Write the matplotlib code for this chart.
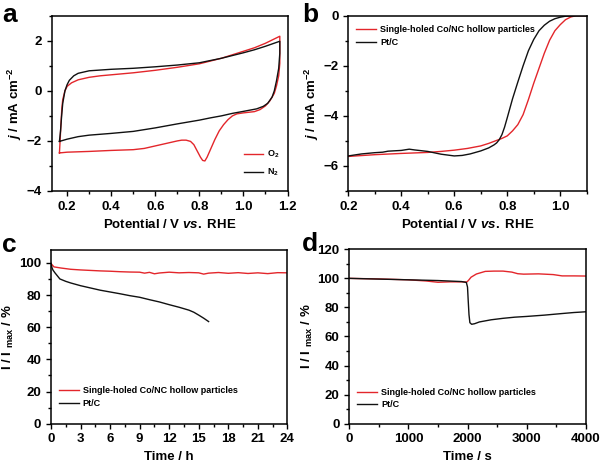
import matplotlib
matplotlib.use("Agg")
import matplotlib.pyplot as plt
from matplotlib.ticker import MultipleLocator

plt.rcParams["font.family"] = ["Liberation Sans", "DejaVu Sans"]
plt.rcParams["font.weight"] = "bold"
plt.rcParams["mathtext.fontset"] = "custom"
plt.rcParams["mathtext.rm"] = "Liberation Sans:bold"
plt.rcParams["mathtext.bf"] = "Liberation Sans:bold"
plt.rcParams["mathtext.it"] = "Liberation Sans:italic:bold"
plt.rcParams["mathtext.default"] = "bf"

RED = "#e3262b"
BLACK = "#111111"

# ---- panel a: CV in O2 / N2 (closed loops, anodic then cathodic sweep) ----
cv_o2_v = [0.165, 0.168, 0.172, 0.176, 0.18, 0.19, 0.2, 0.22, 0.25, 0.3, 0.35, 0.4, 0.5,
           0.6, 0.7, 0.8, 0.9, 1.0, 1.05, 1.1, 1.165,
           1.165, 1.16, 1.15, 1.14, 1.12, 1.1, 1.075, 1.05, 1.0, 0.97, 0.95, 0.93, 0.91,
           0.89, 0.87, 0.85, 0.835, 0.825, 0.815, 0.805, 0.79, 0.775, 0.76, 0.74, 0.72,
           0.7, 0.65, 0.6, 0.55, 0.5, 0.4, 0.3, 0.2, 0.165]
cv_o2_j = [-2.48, -2.0, -1.3, -0.7, -0.35, 0.0, 0.18, 0.32, 0.44, 0.54, 0.6, 0.64, 0.72,
           0.82, 0.94, 1.08, 1.3, 1.58, 1.72, 1.9, 2.18,
           1.1, 0.6, 0.2, -0.1, -0.4, -0.6, -0.75, -0.83, -0.88, -0.92, -1.0, -1.15, -1.35,
           -1.6, -1.95, -2.35, -2.65, -2.8, -2.78, -2.65, -2.4, -2.15, -2.02, -1.97, -1.97,
           -2.0, -2.1, -2.2, -2.3, -2.35, -2.38, -2.42, -2.45, -2.48]
cv_n2_v = [0.165, 0.17, 0.175, 0.18, 0.19, 0.2, 0.21, 0.23, 0.25, 0.3, 0.35, 0.4, 0.5,
           0.6, 0.7, 0.8, 0.9, 1.0, 1.05, 1.1, 1.165,
           1.165, 1.16, 1.15, 1.14, 1.13, 1.11, 1.09, 1.06, 1.0, 0.95, 0.9, 0.85, 0.8,
           0.7, 0.6, 0.5, 0.4, 0.3, 0.25, 0.2, 0.165]
cv_n2_j = [-2.02, -1.6, -1.0, -0.5, 0.0, 0.25, 0.42, 0.6, 0.7, 0.8, 0.83, 0.86, 0.9,
           0.96, 1.03, 1.12, 1.3, 1.52, 1.64, 1.78, 1.98,
           1.5, 0.9, 0.4, 0.0, -0.25, -0.5, -0.62, -0.72, -0.82, -0.9, -1.0, -1.08, -1.17,
           -1.32, -1.48, -1.62, -1.7, -1.77, -1.83, -1.93, -2.02]

# ---- panel b: LSV ----
lsv_co_v = [0.2, 0.3, 0.4, 0.5, 0.55, 0.6, 0.65, 0.7, 0.73, 0.76, 0.78, 0.8, 0.82, 0.84,
            0.86, 0.88, 0.9, 0.92, 0.94, 0.96, 0.98, 1.0, 1.02, 1.04, 1.06, 1.1]
lsv_co = [-5.62, -5.55, -5.5, -5.46, -5.42, -5.37, -5.3, -5.2, -5.1, -4.98, -4.9, -4.8,
          -4.6, -4.35, -3.95, -3.35, -2.7, -2.1, -1.5, -0.98, -0.6, -0.36, -0.16, -0.05,
          0.0, 0.0]
lsv_pt_v = [0.2, 0.25, 0.3, 0.33, 0.35, 0.4, 0.43, 0.45, 0.5, 0.55, 0.6, 0.63, 0.66, 0.7,
            0.73, 0.75, 0.76, 0.77, 0.78, 0.79, 0.8, 0.81, 0.82, 0.84, 0.86, 0.88, 0.9,
            0.92, 0.94, 0.96, 0.98, 1.0, 1.02, 1.05, 1.1]
lsv_pt = [-5.6, -5.52, -5.47, -5.45, -5.41, -5.38, -5.33, -5.36, -5.42, -5.53, -5.6,
          -5.58, -5.52, -5.4, -5.28, -5.16, -5.08, -4.95, -4.75, -4.45, -4.08, -3.7, -3.32,
          -2.65, -2.0, -1.4, -0.95, -0.6, -0.38, -0.22, -0.12, -0.06, -0.02, 0.0, 0.0]

# ---- panel c: chronoamperometry (h) ----
c_t_co = [0, 0.3, 1, 2, 3, 4, 5, 6, 7, 8, 9, 9.5, 10, 10.5, 11, 12, 13, 14, 15, 15.5, 16,
          17, 18, 19, 20, 21, 22, 23, 24]
c_co = [99.6, 97.5, 96.8, 96.0, 95.6, 95.3, 95.0, 94.8, 94.5, 94.3, 94.2, 93.6, 94.1, 93.2,
        93.7, 94.2, 93.8, 94.0, 93.8, 93.0, 93.6, 94.0, 93.5, 93.9, 93.4, 93.8, 93.3, 93.9, 93.8]
c_t_pt = [0, 0.1, 0.2, 0.4, 0.9, 1.5, 2, 3, 4, 5, 6, 7, 8, 9, 10, 11, 12, 13, 14, 14.5,
          15, 15.5, 16]
c_pt = [99.6, 97.0, 95.5, 93.8, 90.0, 88.5, 87.5, 85.8, 84.4, 83.0, 81.9, 80.8, 79.6,
        78.6, 77.1, 75.7, 74.0, 72.4, 70.6, 69.3, 67.5, 65.6, 63.5]

# ---- panel d: chronoamperometry (s), methanol added at 2000 s ----
d_t_co = [0, 500, 1000, 1300, 1500, 1700, 1900, 1990, 2020, 2060, 2150, 2300, 2450, 2600,
          2750, 2850, 2950, 3200, 3450, 3600, 3800, 4000]
d_co = [100, 99.6, 99.0, 98.2, 97.3, 97.6, 97.6, 97.5, 98.8, 100.8, 103.0, 104.8, 105.0,
        105.0, 104.3, 103.2, 102.9, 103.1, 102.6, 101.7, 101.7, 101.6]
d_t_pt = [0, 500, 1000, 1500, 1900, 1980, 2000, 2010, 2025, 2040, 2070, 2120, 2200, 2400,
          2600, 2800, 3000, 3300, 3600, 3800, 4000]
d_pt = [100, 99.5, 99.0, 98.5, 97.8, 97.2, 94.0, 86.0, 75.0, 69.5, 68.4, 68.8, 70.0, 71.5,
        72.5, 73.3, 73.8, 74.7, 75.8, 76.5, 77.0]

LABEL_CO = "Single-holed Co/NC hollow particles"
LABEL_PT = "Pt/C"

fig = plt.figure(figsize=(6.0, 4.62), dpi=100)

ax_a = fig.add_axes([0.0862, 0.5866, 0.393, 0.3794])
ax_b = fig.add_axes([0.5805, 0.5866, 0.3973, 0.3794])
ax_c = fig.add_axes([0.085, 0.0829, 0.394, 0.376])
ax_d = fig.add_axes([0.5822, 0.0829, 0.394, 0.3775])


def style(ax):
    for s in ax.spines.values():
        s.set_linewidth(1.1)
    ax.tick_params(which="both", direction="out", top=False, right=False,
                   labelsize=9.5, width=1.0)
    ax.tick_params(which="major", length=3.5)
    ax.tick_params(which="minor", length=2)
    for lab in ax.get_xticklabels() + ax.get_yticklabels():
        lab.set_fontweight("bold")


lw = 1.0
leg_kw = dict(frameon=False, fontsize=6.5, handlelength=2.2, handletextpad=0.4)

# a
ax_a.plot(cv_o2_v, cv_o2_j, color=RED, lw=lw, label="O$_2$")
ax_a.plot(cv_n2_v, cv_n2_j, color=BLACK, lw=lw, label="N$_2$")
ax_a.set_xlim(0.13, 1.2)
ax_a.set_ylim(-4, 3)
ax_a.xaxis.set_major_locator(MultipleLocator(0.2))
ax_a.xaxis.set_minor_locator(MultipleLocator(0.1))
ax_a.yaxis.set_major_locator(MultipleLocator(2))
ax_a.yaxis.set_minor_locator(MultipleLocator(1))
ax_a.set_xlabel(r"Potential / V $\it{vs.}$ RHE", fontsize=9.5, fontweight="bold")
ax_a.set_ylabel(r"$\it{j}$ / mA cm$^{-2}$", fontsize=9.5, fontweight="bold", labelpad=2)
ax_a.legend(loc="lower right", bbox_to_anchor=(1.0, 0.025), labelspacing=0.75, **leg_kw)

# b
ax_b.plot(lsv_co_v, lsv_co, color=RED, lw=lw, label=LABEL_CO)
ax_b.plot(lsv_pt_v, lsv_pt, color=BLACK, lw=lw, label=LABEL_PT)
ax_b.set_xlim(0.2, 1.1)
ax_b.set_ylim(-7, 0)
ax_b.xaxis.set_major_locator(MultipleLocator(0.2))
ax_b.xaxis.set_minor_locator(MultipleLocator(0.1))
ax_b.yaxis.set_major_locator(MultipleLocator(2))
ax_b.yaxis.set_minor_locator(MultipleLocator(1))
ax_b.set_xlabel(r"Potential / V $\it{vs.}$ RHE", fontsize=9.5, fontweight="bold")
ax_b.set_ylabel(r"$\it{j}$ / mA cm$^{-2}$", fontsize=9.5, fontweight="bold", labelpad=2)
ax_b.legend(loc="upper left", bbox_to_anchor=(0.0, 0.995), labelspacing=0.45, **leg_kw)

# c
ax_c.plot(c_t_co, c_co, color=RED, lw=lw, label=LABEL_CO)
ax_c.plot(c_t_pt, c_pt, color=BLACK, lw=lw, label=LABEL_PT)
ax_c.set_xlim(0, 24)
ax_c.set_ylim(0, 108)
ax_c.xaxis.set_major_locator(MultipleLocator(3))
ax_c.xaxis.set_minor_locator(MultipleLocator(1.5))
ax_c.yaxis.set_major_locator(MultipleLocator(20))
ax_c.yaxis.set_minor_locator(MultipleLocator(10))
ax_c.set_xlabel("Time / h", fontsize=9.5, fontweight="bold")
ax_c.set_ylabel(r"I / I $_{\mathrm{max}}$ / %", fontsize=9.5, fontweight="bold", labelpad=2)
ax_c.legend(loc="lower left", bbox_to_anchor=(0.0, 0.045), labelspacing=0.45, **leg_kw)

# d
ax_d.plot(d_t_co, d_co, color=RED, lw=lw, label=LABEL_CO)
ax_d.plot(d_t_pt, d_pt, color=BLACK, lw=lw, label=LABEL_PT)
ax_d.set_xlim(0, 4000)
ax_d.set_ylim(0, 120)
ax_d.xaxis.set_major_locator(MultipleLocator(1000))
ax_d.xaxis.set_minor_locator(MultipleLocator(500))
ax_d.yaxis.set_major_locator(MultipleLocator(20))
ax_d.yaxis.set_minor_locator(MultipleLocator(10))
ax_d.set_xlabel("Time / s", fontsize=9.5, fontweight="bold")
ax_d.set_ylabel(r"I / I $_{\mathrm{max}}$ / %", fontsize=9.5, fontweight="bold", labelpad=2)
ax_d.legend(loc="lower left", bbox_to_anchor=(0.0, 0.035), labelspacing=0.35, **leg_kw)

for ax in (ax_a, ax_b, ax_c, ax_d):
    style(ax)

# panel letters
for x, y, s in [(0.003, 0.968, "a"), (0.503, 0.968, "b"), (0.003, 0.47, "c"), (0.503, 0.472, "d")]:
    fig.text(x, y, s, fontsize=19, fontweight="bold", va="center", ha="left")

fig.savefig("out.png", dpi=100)
